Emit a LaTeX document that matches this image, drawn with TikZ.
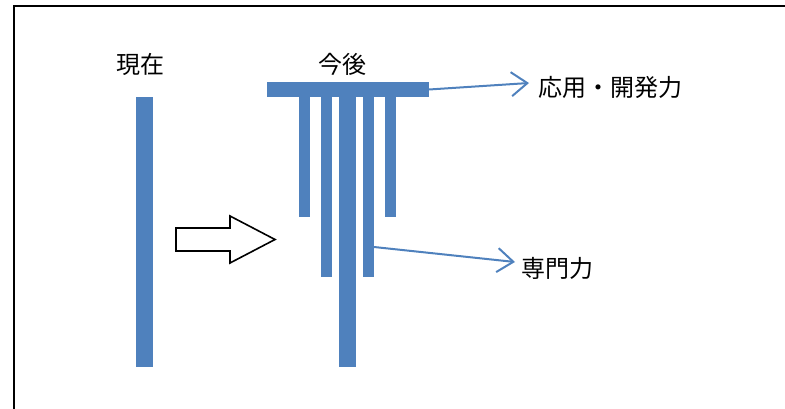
\documentclass[tikz,border=0pt]{standalone}
\usepackage{fontspec}
\newfontfamily\jp{Noto Sans CJK JP}
\usetikzlibrary{arrows.meta}
\definecolor{barblue}{HTML}{4F81BD}
\begin{document}
\begin{tikzpicture}[x=1pt,y=-1pt,
  bar/.style={fill=barblue, draw=none, inner sep=0pt, outer sep=0pt, rectangle, anchor=north west},
  lbl/.style={font=\jp\fontsize{24}{26}\selectfont, inner sep=0pt, text=black},
  conn/.style={draw=barblue, line width=2pt, -{Straight Barb[length=16pt,width=24pt]}},
  blockarrow/.style={draw=black, fill=white, line width=1.6pt, line join=miter}]
\useasboundingbox (0,0) rectangle (785,409);
\draw[line width=2pt] (13.5,420) -- (13.5,6.5) -- (800,6.5);
% current
\node[bar, minimum width=17pt, minimum height=270pt] (now) at (136,97) {};
% future
\node[bar, minimum width=162pt, minimum height=15pt] (top) at (267,82) {};
\node[bar, minimum width=11pt, minimum height=120pt] (b1) at (299,97) {};
\node[bar, minimum width=11pt, minimum height=180pt] (b2) at (321,97) {};
\node[bar, minimum width=17pt, minimum height=270pt] (b3) at (339,97) {};
\node[bar, minimum width=11pt, minimum height=180pt] (b4) at (363,97) {};
\node[bar, minimum width=11pt, minimum height=120pt] (b5) at (385,97) {};
% labels
\node[lbl] (lnow) at (140,64) {現在};
\node[lbl] (lfut) at (342,64) {今後};
\node[lbl, anchor=west] (dev) at (538,87) {応用・開発力};
\node[lbl, anchor=west] (spec) at (521,268) {専門力};
% connectors
\draw[conn] (top.east) -- ([xshift=-9pt,yshift=4pt]dev.west);
\draw[conn] ([yshift=30pt]b4.south east) -- ([xshift=-6pt,yshift=6pt]spec.west);
% block arrow
\draw[blockarrow] (176,228) -- (230,228) -- (230,216) -- (275,239.5) -- (230,263) -- (230,251) -- (176,251) -- cycle;
\end{tikzpicture}
\end{document}
